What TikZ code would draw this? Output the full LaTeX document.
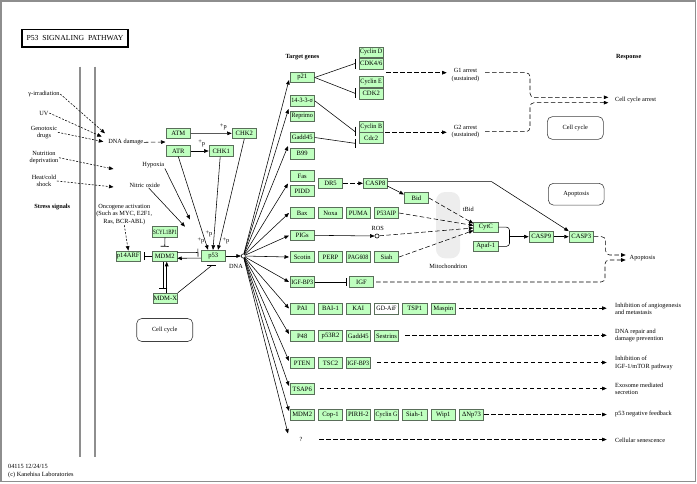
\documentclass[tikz,border=0pt]{standalone}
\usepackage{fontspec}
\setmainfont{Liberation Serif}
\usetikzlibrary{arrows.meta,calc}
\definecolor{kgreen}{HTML}{BFFFBF}
\definecolor{kedge}{HTML}{5A6E5A}
\definecolor{membc}{HTML}{8E8E8E}
\definecolor{framec}{HTML}{8E8E8E}
\definecolor{mitoc}{HTML}{EDEDED}
\newcommand{\hsq}[2]{\scalebox{#1}[1]{#2}}
\begin{document}
\begin{tikzpicture}[x=1pt,y=-1pt,
 gene/.style={draw=kedge, fill=kgreen, line width=0.6pt, minimum width=24.5pt, minimum height=10.5pt, inner sep=0pt, font=\fontsize{6.6}{6.6}\selectfont},
 wgene/.style={gene, fill=white},
 lbl/.style={font=\fontsize{6.3}{7.2}\selectfont, inner sep=0.5pt, align=center},
 lbll/.style={lbl, align=left, anchor=west},
 blbl/.style={lbl, font=\fontsize{6.3}{7.2}\selectfont\bfseries},
 ln/.style={line width=0.55pt},
 arr/.style={ln, -{Triangle[length=4.5pt,width=3.6pt]}},
 darr/.style={arr, dash pattern=on 4.5pt off 2.5pt},
 dln/.style={ln, dash pattern=on 4.5pt off 2.5pt},
 sarr/.style={arr, dash pattern=on 2pt off 1.5pt},
 inh/.style={ln, -{Bar[width=8pt,line width=0.7pt]}},
 barln/.style={line width=0.7pt},
 mapbox/.style={draw=black!75, line width=0.6pt, rounded corners=5pt, font=\fontsize{6.3}{7.2}\selectfont, inner sep=0pt},
]
\useasboundingbox (0,0) rectangle (697,483);
\draw[framec, line width=1.4pt] (1,1) rectangle (695.3,481.7);

% membrane
\draw[membc, line width=2.4pt] (80,66.7) -- (80,456.7);
\draw[membc, line width=2.4pt] (95,66.7) -- (95,456.7);

% title
\node[draw=black, line width=1.3pt, minimum width=106pt, minimum height=17.5pt, inner sep=0pt, font=\fontsize{7.7}{7.7}\selectfont] (title) at (75,38.3) {P53\ \ SIGNALING\ \ PATHWAY};

% stress signals
\node[lbl] (gam) at (44,94) {γ-irradiation};
\node[lbl] (uv) at (44,113) {UV};
\node[lbl] (geno) at (44,132.3) {Genotoxic\\drugs};
\node[lbl] (nutr) at (44,157.7) {Nutrition\\deprivation};
\node[lbl] (heat) at (44,181) {Heat/cold\\shock};
\node[blbl] (stress) at (52.3,206.7) {Stress signals};
\coordinate (dd1) at (105,133.3);
\coordinate (dd2) at (101.7,136.7);
\coordinate (dd3) at (103.3,141.7);
\coordinate (nd1) at (113.5,169);
\coordinate (hs1) at (113.5,187);
\draw[sarr] (gam.east) -- (dd1);
\draw[sarr] (uv.east) -- (dd2);
\draw[sarr] (geno.east) -- (dd3);
\draw[sarr] (nutr.east) -- (nd1);
\draw[sarr] (heat.east) -- (hs1);

% DNA damage sensors
\node[lbl] (dnad) at (125.8,142.3) {DNA damage};
\coordinate (atmr) at (165.5,142);
\draw[darr] (dnad.east) -- (atmr);
\node[gene] (atm) at (178.3,133.5) {ATM};
\node[gene] (atr) at (178.3,151) {ATR};
\node[gene] (chk2) at (244.3,133.3) {CHK2};
\node[gene] (chk1) at (221.2,151) {CHK1};
\draw[arr] (atm) -- (chk2);
\draw[arr] (atr) -- (chk1);
\node[lbl] (pp1) at (223.3,126.7) {\raisebox{1.2pt}{+}p};
\node[lbl] (pp2) at (201.7,143.3) {\raisebox{1.2pt}{+}p};

\node[lbl] (hyp) at (153.3,165) {Hypoxia};
\node[lbl] (nox) at (144.7,185) {Nitric oxide};
\coordinate (hypend) at (190,219.5);
\coordinate (noend) at (185,226.7);
\draw[arr] (hyp.south east) -- (hypend);
\draw[arr] ([xshift=4pt]nox.south) -- (noend);

% p53 core
\node[gene] (p53) at (213.3,256) {p53};
\node[gene] (mdm2) at (164.7,256.2) {MDM2};
\node[gene] (p14) at (128.3,256.2) {p14ARF};
\node[gene] (scyl) at (165,232) {\hsq{0.76}{SCYL1BP1}};
\node[gene] (mdmx) at (165.3,298.3) {MDM-X};
\node[lbl] (onco) at (124.3,214.5) {Oncogene activation\\(Such as MYC, E2F1,\\Ras, BCR-ABL)};
\draw[sarr] (onco.south) -- (p14.north);

\coordinate (p53a) at (208,249.8);
\coordinate (p53b) at (213,249.8);
\coordinate (p53c) at (218,249.8);
\draw[arr] (atr.south) -- (p53a);
\draw[arr] ([xshift=-1pt]chk1.south) -- (p53b);
\draw[arr] (chk2.south) -- (p53c);
\node[lbl] (pp3) at (209,234) {\raisebox{1.2pt}{+}p};
\node[lbl] (pp4) at (201,241) {\raisebox{1.2pt}{+}p};
\node[lbl] (pp5) at (226,241) {\raisebox{1.2pt}{+}p};

\draw[inh] ([yshift=3.5pt]mdm2.east) -- ([yshift=3.5pt, xshift=-2.5pt]p53.west);
\draw[arr] ([yshift=-2.1pt]p53.west) -- ([yshift=-2.1pt]mdm2.east);
\draw[inh] (mdm2.west) -- ([xshift=2.8pt]p14.east);
\draw[inh] (scyl.south) -- ([yshift=4pt]mdm2.north);
\draw[inh] ([xshift=-1.4pt]mdm2.south) -- ([xshift=-2pt,yshift=3.8pt]mdmx.north);
\draw[arr] ([xshift=1.4pt]mdmx.north) -- ([xshift=2pt]mdm2.south);
\coordinate (xb) at (211.7,265.5);
\draw[ln] (mdmx.north east) -- (xb);
\draw[barln] ($(xb)+(-4.3,0)$) -- ($(xb)+(4.3,0)$);

\node[mapbox, minimum width=56pt, minimum height=23pt] (cc2) at (164.7,330) {Cell cycle};

% DNA
\node[circle, draw, line width=0.55pt, inner sep=0pt, minimum size=4.2pt] (dna) at (243.3,256) {};
\node[lbl] (dnal) at (236,266.7) {DNA};
\draw[arr] (p53.east) -- (dna.west);

\coordinate (t1) at (289,80);
\coordinate (t2) at (288.5,109);
\coordinate (t3) at (288,146);
\coordinate (t4) at (288,183.5);
\coordinate (t5) at (289,213);
\coordinate (t6) at (289,235.5);
\coordinate (t7) at (289,257);
\coordinate (t8) at (289,282);
\coordinate (t9) at (289,308.5);
\coordinate (t10) at (289,334);
\coordinate (t11) at (289,361);
\coordinate (t12) at (289,386);
\coordinate (t13) at (289,411);
\coordinate (t14) at (288,433.5);
\foreach \t in {t1,t2,t3,t4,t5,t6,t7,t8,t9,t10,t11,t12,t13,t14} \draw[arr] (dna) -- (\t);

% target genes
\node[blbl] (tg) at (302.5,56.7) {Target genes};
\node[gene] (p21) at (302.2,77.5) {p21};
\node[gene] (s1433) at (302.2,100.8) {\hsq{0.92}{14-3-3-σ}};
\node[gene] (repr) at (302.2,116.3) {\hsq{0.92}{Reprimo}};
\node[gene] (gadd) at (302.2,137.5) {Gadd45};
\node[gene] (b99) at (302.2,153.7) {B99};

\node[gene] (cycd) at (371.2,52.3) {\hsq{0.92}{Cyclin D}};
\node[gene] (cdk46) at (371.2,63.7) {CDK4/6};
\node[gene] (cyce) at (371.2,82) {\hsq{0.92}{Cyclin E}};
\node[gene] (cdk2) at (371.2,93.7) {CDK2};
\node[gene] (cycb) at (371.2,127) {\hsq{0.92}{Cyclin B}};
\node[gene] (cdc2) at (371.2,138) {Cdc2};

\coordinate (b1) at (355,63.5);
\coordinate (b2) at (355,93.3);
\coordinate (b3) at (355,131.6);
\coordinate (b4) at (355,143.3);
\draw[ln] (p21.east) -- (b1);
\draw[ln] (p21.east) -- (b2);
\draw[ln] (s1433.east) -- (b3);
\draw[ln] (gadd.east) -- (b4);
\draw[barln] ($(b1)+(0,-5)$) -- ($(b1)+(0,5)$);
\draw[barln] ($(b2)+(0,-5)$) -- ($(b2)+(0,5)$);
\draw[barln] ($(b3)+(0,-5)$) -- ($(b3)+(0,4.5)$);
\draw[barln] ($(b4)+(0,-4.5)$) -- ($(b4)+(0,5)$);

\node[lbl] (g1) at (465.5,75) {G1 arrest\\(sustained)};
\node[lbl] (g2) at (465.5,131.8) {G2 arrest\\(sustained)};
\coordinate (g1s) at (386,72.7);
\coordinate (g1e) at (446.7,72.7);
\coordinate (g2s) at (385,132.3);
\coordinate (g2e) at (446.7,132.3);
\draw[darr] (g1s) -- (g1e);
\draw[darr] (g2s) -- (g2e);
\coordinate (g1o) at (485,72.7);
\coordinate (g2o) at (485,131.7);
\coordinate (cca1) at (608.3,97.3);
\coordinate (cca2) at (608.3,102.7);
\draw[darr, rounded corners=4pt] (g1o) -- (530,72.7) -- (530,97.3) -- (cca1);
\draw[darr, rounded corners=4pt] (g2o) -- (530,131.7) -- (530,102.7) -- (cca2);
\node[blbl] (resp) at (628.7,56.7) {Response};
\node[lbll] (ccal) at (614.5,100) {Cell cycle arrest};
\node[mapbox, minimum width=56pt, minimum height=22.7pt] (cc1) at (575.3,128) {Cell cycle};

% apoptosis
\fill[mitoc, rounded corners=9pt] (436,192) rectangle (460,258.3);
\node[lbl] (mitol) at (448.3,266) {Mitochondrion};
\node[gene] (fas) at (302.2,176) {Fas};
\node[gene] (pidd) at (302.2,191) {PIDD};
\node[gene] (dr5) at (330.5,183.3) {DR5};
\node[gene] (casp8) at (375.5,183.3) {CASP8};
\node[gene] (bid) at (416.5,198) {Bid};
\draw[darr] (dr5) -- (casp8);
\draw[arr] ([xshift=-1pt,yshift=3pt]casp8.south east) -- ([yshift=-2pt]bid.north west);

\node[gene] (bax) at (302.2,213) {Bax};
\node[gene] (noxa) at (330.5,213) {Noxa};
\node[gene] (puma) at (358.3,213) {PUMA};
\node[gene] (p53aip) at (386.5,213) {\hsq{0.92}{P53AIP}};
\node[gene] (pigs) at (302.2,235.3) {PIGs};
\node[circle, draw, line width=0.55pt, fill=white, inner sep=0pt, minimum size=4.2pt] (rosc) at (377,236) {};
\node[lbl] (rosl) at (377.7,228.3) {ROS};
\draw[arr] (pigs.east) -- (rosc.west);
\node[gene] (scotin) at (302.2,257) {Scotin};
\node[gene] (perp) at (330.5,257) {PERP};
\node[gene] (pag) at (358.3,257) {\hsq{0.9}{PAG608}};
\node[gene] (siah) at (386.5,257) {Siah};

\node[gene] (cytc) at (485.8,227.2) {CytC};
\node[gene] (apaf) at (485.8,246.3) {Apaf-1};
\node[lbl] (tbid) at (468.3,209.3) {tBid};
\coordinate (cy1) at (473.4,223.5);
\coordinate (cy2) at (473.4,225.5);
\coordinate (cy3) at (473.4,228);
\coordinate (cy4) at (473.4,230.5);
\draw[darr] (bid.east) -- (cy1);
\draw[darr] (p53aip.east) -- (cy2);
\draw[darr] (rosc) -- (cy3);
\draw[darr] (siah.east) -- (cy4);

\node[gene] (casp9) at (541.2,236.7) {CASP9};
\node[gene] (casp3) at (581.3,236.7) {CASP3};
\draw[ln, rounded corners=3pt] (cytc.east) -- (509.5,227.2) -- (509.5,246.3) -- (apaf.east);
\coordinate (brk) at (509.5,236.7);
\draw[arr] (brk) -- (casp9.west);
\draw[arr] (casp9) -- (casp3);
\coordinate (c8b) at (491.7,181.7);
\draw[arr] ([yshift=1.6pt]casp8.east) -- (c8b) -- (casp3.north west);

\node[mapbox, minimum width=55.7pt, minimum height=21.7pt] (apbox) at (576.2,194.2) {Apoptosis};
\node[lbll] (apl) at (629,258) {Apoptosis};
\coordinate (ap1) at (625.7,255);
\coordinate (ap2) at (625.7,260);

\node[gene] (igfbp3) at (302.2,282) {\hsq{0.9}{IGF-BP3}};
\node[gene] (igf) at (361.5,282) {IGF};
\draw[inh] (igfbp3.east) -- ([xshift=-2pt]igf.west);
\draw[darr, rounded corners=4pt] (casp3.east) -- (605.7,236.7) -- (605.7,255) -- (ap1);
\draw[darr, rounded corners=4pt] ([xshift=2pt]igf.east) -- (605,282) -- (605,260) -- (ap2);

% other target rows
\node[gene] (pai) at (302.2,308.7) {PAI};
\node[gene] (bai) at (330.5,308.7) {BAI-1};
\node[gene] (kai) at (358.3,308.7) {KAI};
\node[wgene] (gdaif) at (386.5,308.7) {\hsq{0.92}{GD-AiF}};
\node[gene] (tsp1) at (414.8,308.7) {TSP1};
\node[gene] (maspin) at (443.3,308.7) {Maspin};

\node[gene] (p48) at (302.2,336) {P48};
\node[gene] (p53r2) at (330.5,336) {p53R2};
\node[gene] (gadd2) at (358.3,336) {Gadd45};
\node[gene] (sestr) at (386.5,336) {Sestrins};

\node[gene] (pten) at (302.2,363) {PTEN};
\node[gene] (tsc2) at (330.5,363) {TSC2};
\node[gene] (igfbp3b) at (358.3,363) {\hsq{0.9}{IGF-BP3}};

\node[gene] (tsap6) at (302.2,389) {TSAP6};

\node[gene] (mdm2b) at (302.2,414.7) {MDM2};
\node[gene] (cop1) at (330.5,414.7) {Cop-1};
\node[gene] (pirh2) at (358.3,414.7) {PIRH-2};
\node[gene] (cycg) at (386.5,414.7) {\hsq{0.9}{Cyclin G}};
\node[gene] (siah1) at (414.8,414.7) {Siah-1};
\node[gene] (wip1) at (443.3,414.7) {Wip1};
\node[gene] (dnp73) at (471.5,414.7) {ΔNp73};

\node[lbl] (q) at (301,439) {?};

% responses
\node[lbll] (r1) at (614.5,309.2) {Inhibition of angiogenesis\\and metastasis};
\node[lbll] (r2) at (614.5,335.8) {DNA repair and\\damage prevention};
\node[lbll] (r3) at (614.5,363) {Inhibition of\\IGF-1/mTOR pathway};
\node[lbll] (r4) at (614.5,389.2) {Exosome mediated\\secretion};
\node[lbll] (r5) at (614.5,414.3) {p53 negative feedback};
\node[lbll] (r6) at (614.5,440) {Cellular senescence};

\coordinate (e1) at (606.7,308.2);
\coordinate (e2) at (606.7,335.3);
\coordinate (e3) at (606.7,362.5);
\coordinate (e4) at (606.7,388.5);
\coordinate (e5) at (606.7,414.5);
\coordinate (e6) at (606.7,439.5);
\coordinate (qs) at (319.3,439.5);
\draw[darr] ([xshift=3.6pt,yshift=0.5pt]maspin.east) -- (e1);
\draw[darr] ([xshift=6pt,yshift=0.7pt]sestr.east) -- (e2);
\draw[darr] ([xshift=6pt,yshift=0.5pt]igfbp3b.east) -- (e3);
\draw[darr] ([xshift=5pt,yshift=0.5pt]tsap6.east) -- (e4);
\draw[darr] ([yshift=0.2pt]dnp73.east) -- (e5);
\draw[darr] (qs) -- (e6);

% footer
\node[lbll, align=left] (foot) at (7.5,471) {04115 12/24/15\\(c) Kanehisa Laboratories};
\end{tikzpicture}
\end{document}
